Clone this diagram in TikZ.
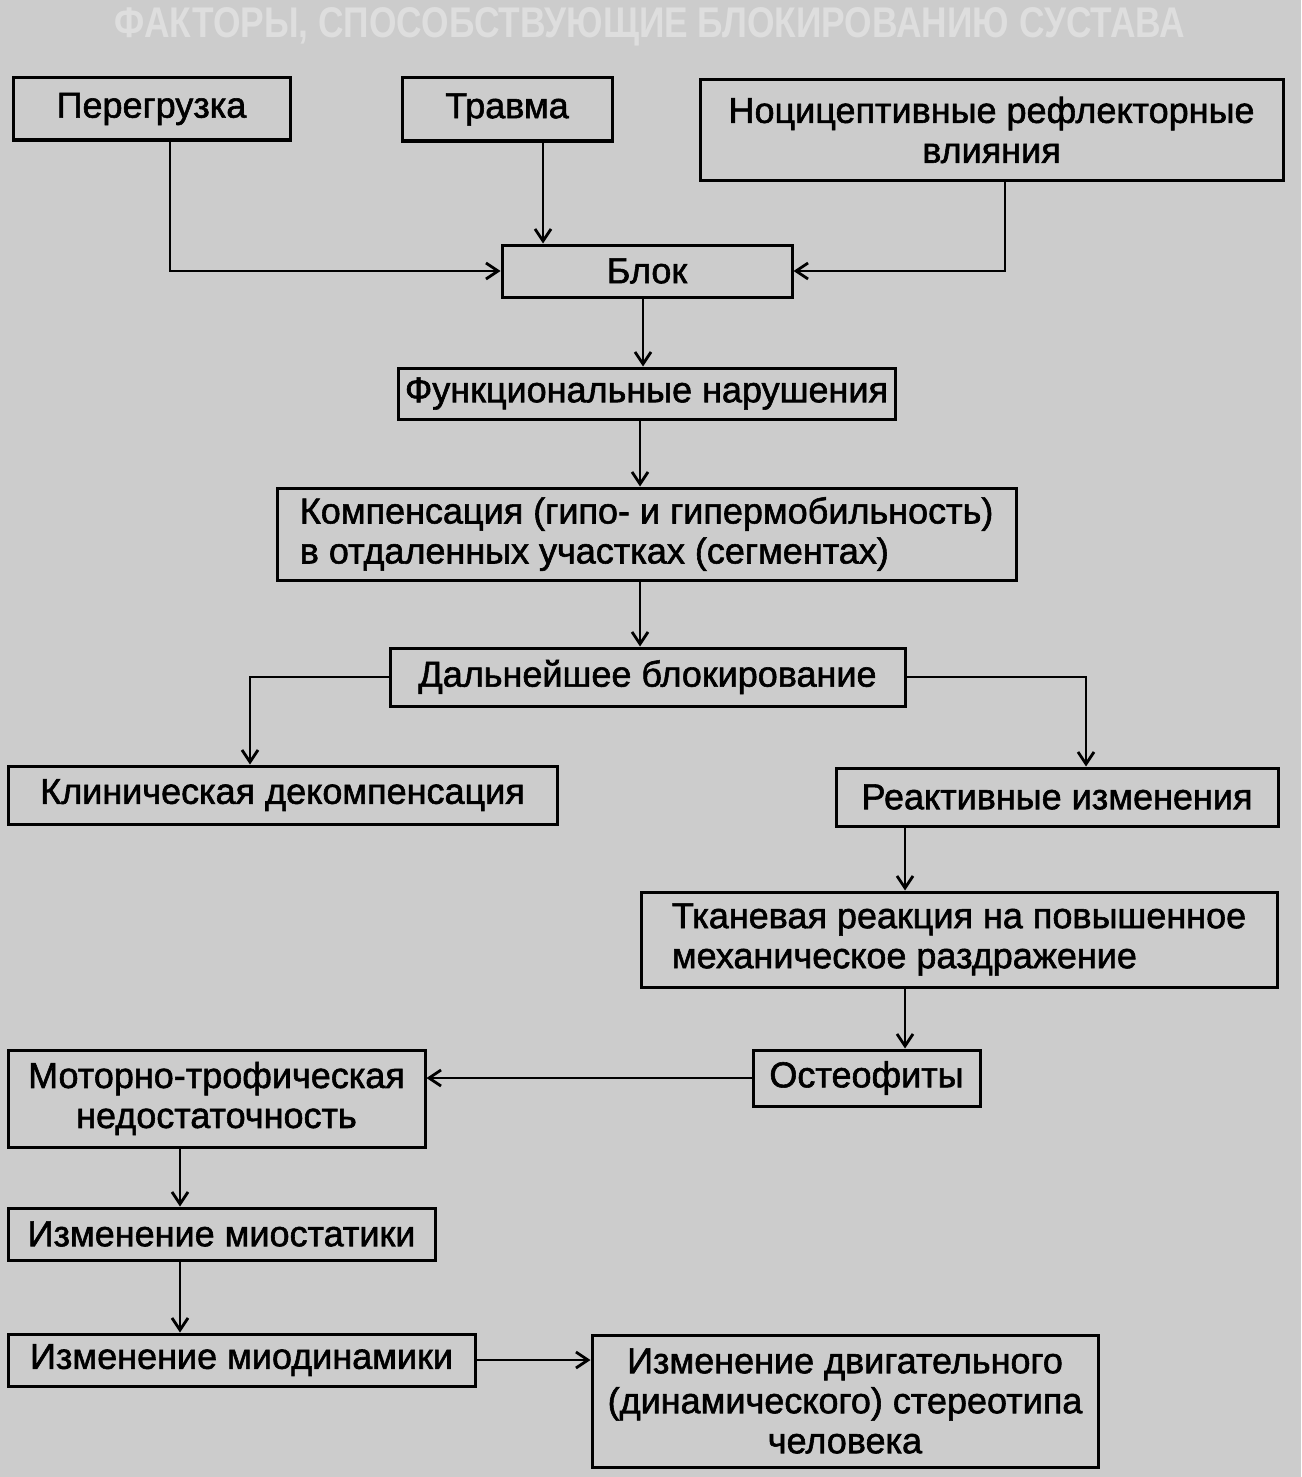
\documentclass[tikz,border=0pt]{standalone}
\usepackage{fontspec}
\usepackage{graphicx}
\setmainfont{Liberation Sans}
\newfontfamily\boxfont[FakeBold=1.6]{Liberation Sans}
\usetikzlibrary{arrows.meta}
\definecolor{bg}{RGB}{204,204,204}
\definecolor{ttl}{RGB}{222,222,222}
\begin{document}
\begin{tikzpicture}[x=0.5pt,y=-0.5pt,
  box/.style={draw=black,line width=1.5pt,inner sep=0pt,font=\boxfont\fontsize{18}{20}\selectfont},
  arr/.style={line width=1.4pt,-{Straight Barb[length=6pt,width=8pt,line width=1.4pt]}}]
\fill[bg] (0,0) rectangle (1301,1477);
\useasboundingbox (0,0) rectangle (1301,1477);
\node[text=ttl,inner sep=0pt] (title) at (650,27) {\resizebox{535pt}{15pt}{\bfseries ФАКТОРЫ, СПОСОБСТВУЮЩИЕ БЛОКИРОВАНИЮ СУСТАВА}};
\node[box,minimum width=277*0.5pt,minimum height=62*0.5pt] (per) at (151.5,109) {Перегрузка};
\node[box,minimum width=210*0.5pt,minimum height=63*0.5pt] (tra) at (507,109.5) {Травма};
\node[box,minimum width=583*0.5pt,minimum height=100*0.5pt,align=center] (noc) at (991.5,130) {Ноцицептивные рефлекторные\\влияния};
\node[box,minimum width=290*0.5pt,minimum height=52*0.5pt] (blk) at (647,271) {Блок};
\node[box,minimum width=497*0.5pt,minimum height=51*0.5pt] (fun) at (646.5,393.5) {Функциональные нарушения};
\node[box,minimum width=739*0.5pt,minimum height=92*0.5pt,align=left] (kom) at (646.5,534) {Компенсация (гипо- и гипермобильность)\\в отдаленных участках (сегментах)};
\node[box,minimum width=515*0.5pt,minimum height=58*0.5pt] (dal) at (647.5,677) {Дальнейшее блокирование};
\node[box,minimum width=549*0.5pt,minimum height=58*0.5pt] (kli) at (282.5,795) {Клиническая декомпенсация};
\node[box,minimum width=442*0.5pt,minimum height=58*0.5pt] (rea) at (1057,797) {Реактивные изменения};
\node[box,minimum width=636*0.5pt,minimum height=95*0.5pt,align=left] (tka) at (959,939.5) {Тканевая реакция на повышенное\\механическое раздражение};
\node[box,minimum width=227*0.5pt,minimum height=56*0.5pt] (ost) at (866.5,1078) {Остеофиты};
\node[box,minimum width=417*0.5pt,minimum height=97*0.5pt,align=center] (mot) at (216.5,1098.5) {Моторно-трофическая\\недостаточность};
\node[box,minimum width=427*0.5pt,minimum height=52*0.5pt] (mst) at (221.5,1234) {Изменение миостатики};
\node[box,minimum width=467*0.5pt,minimum height=52*0.5pt] (mdn) at (241.5,1360) {Изменение миодинамики};
\node[box,minimum width=506*0.5pt,minimum height=132*0.5pt,align=center] (dvg) at (845,1401) {Изменение двигательного\\(динамического) стереотипа\\человека};
% connectors
\draw[arr] (170,0 |- per.south) |- (blk.west);
\draw[arr] (543,0 |- tra.south) -- (543,0 |- blk.north);
\draw[arr] (1005,0 |- noc.south) |- (blk.east);
\draw[arr] (643,0 |- blk.south) -- (643,0 |- fun.north);
\draw[arr] (640,0 |- fun.south) -- (640,0 |- kom.north);
\draw[arr] (640,0 |- kom.south) -- (640,0 |- dal.north);
\draw[arr] (dal.west) -| (kli.north -| 250,0);
\draw[arr] (dal.east) -| (rea.north -| 1086,0);
\draw[arr] (905,0 |- rea.south) -- (905,0 |- tka.north);
\draw[arr] (905,0 |- tka.south) -- (905,0 |- ost.north);
\draw[arr] (ost.west) -- (ost.west -| mot.east);
\draw[arr] (180,0 |- mot.south) -- (180,0 |- mst.north);
\draw[arr] (180,0 |- mst.south) -- (180,0 |- mdn.north);
\draw[arr] (mdn.east) -- (mdn.east -| dvg.west);
\end{tikzpicture}
\end{document}
